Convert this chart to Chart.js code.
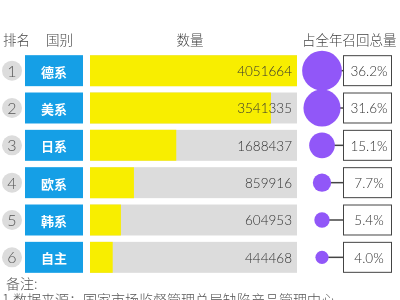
<!DOCTYPE html>
<html>
<head>
<meta charset="utf-8">
<script src="https://cdn.jsdelivr.net/npm/chart.js@4/dist/chart.umd.min.js"></script>
<style>
  html,body{margin:0;padding:0;background:#fff;}
  #wrap{width:400px;height:300px;position:relative;}
</style>
</head>
<body>
<div id="wrap"><canvas id="chartCanvas" width="400" height="300"></canvas></div>
<script>
// data
const ranks = ['1','2','3','4','5','6'];
const countries = ['德系','美系','日系','欧系','韩系','自主'];
const counts = [4051664,3541335,1688437,859916,604953,444468];
const shares = [36.2,31.6,15.1,7.7,5.4,4.0];
const headers = ['排名','国别','数量','占全年召回总量'];
const notes = ['备注:','1.数据来源：国家市场监督管理总局缺陷产品管理中心'];

const CJK = '"Noto Sans CJK SC", "Noto Sans", sans-serif';
const NUM = 'Lato, "Open Sans", sans-serif';

const tablePlugin = {
  id: 'tablePlugin',
  beforeDatasetsDraw(chart){
    const c = chart.ctx, area = chart.chartArea;
    const bars = chart.getDatasetMeta(0).data;
    c.save();
    c.fillStyle = '#dcdcdc';
    bars.forEach(b => {
      c.fillRect(area.left, b.y - b.height/2, area.right - area.left, b.height);
    });
    c.restore();
  },
  afterDatasetsDraw(chart){
    const c = chart.ctx, area = chart.chartArea;
    const bars = chart.getDatasetMeta(0).data;
    c.save();
    // headers
    c.fillStyle = '#444';
    c.font = '300 13.5px ' + CJK;
    c.textBaseline = 'middle';
    c.textAlign = 'left';
    c.fillText(headers[0], 3, 40);
    c.fillText(headers[1], 46, 40);
    c.textAlign = 'center';
    c.fillText(headers[2], 190, 40);
    c.textAlign = 'left';
    c.fillText(headers[3], 302, 40);

    bars.forEach((b, i) => {
      const top = b.y - b.height/2, h = b.height;
      // rank circle
      c.fillStyle = '#dcdcdc';
      c.beginPath(); c.arc(12, b.y, 10, 0, Math.PI*2); c.fill();
      c.fillStyle = '#555';
      c.font = '300 16px ' + NUM;
      c.textAlign = 'center';
      c.fillText(ranks[i], 12, b.y + 1);
      // country box
      c.fillStyle = '#159fe6';
      c.fillRect(25, top, 58, h);
      c.fillStyle = '#fff';
      c.font = 'bold 13px ' + CJK;
      c.fillText(countries[i], 54, b.y + 1);
      // value label
      c.fillStyle = '#333';
      c.font = '300 13.5px ' + NUM;
      c.textAlign = 'right';
      c.fillText(counts[i], area.right - 5, b.y + 1);
      // share bubble + connector + box
      const r = Math.sqrt(shares[i]) * 3.3;
      c.strokeStyle = '#444';
      c.lineWidth = 1.5;
      c.beginPath(); c.moveTo(322, b.y); c.lineTo(343, b.y); c.stroke();
      c.fillStyle = '#9157f8';
      c.beginPath(); c.arc(322, b.y, r, 0, Math.PI*2); c.fill();
      c.fillStyle = '#fff';
      c.fillRect(343, top, 49, h);
      c.lineWidth = 1;
      c.strokeRect(343.5, top + 0.5, 48, h - 1);
      c.fillStyle = '#333';
      c.font = '300 13.5px ' + NUM;
      c.textAlign = 'center';
      c.fillText(shares[i].toFixed(1) + '%', 369, b.y + 1);
    });

    // notes
    c.fillStyle = '#555';
    c.font = '300 14px ' + CJK;
    c.textAlign = 'left';
    c.fillText(notes[0], 6, 284);
    c.fillText(notes[1], 2, 300);
    c.restore();
  }
};

new Chart(document.getElementById('chartCanvas'), {
  type: 'bar',
  data: {
    labels: countries,
    datasets: [{
      data: counts,
      backgroundColor: '#f8ee00',
      borderWidth: 0,
      barPercentage: 0.83,
      categoryPercentage: 1
    }]
  },
  options: {
    indexAxis: 'y',
    responsive: false,
    animation: false,
    events: [],
    layout: { padding: { left: 90, right: 103, top: 52, bottom: 24 } },
    plugins: { legend: { display: false }, tooltip: { enabled: false } },
    scales: {
      x: { display: false, min: 0, max: Math.max(...counts) },
      y: { display: false }
    }
  },
  plugins: [tablePlugin]
});
</script>
</body>
</html>
